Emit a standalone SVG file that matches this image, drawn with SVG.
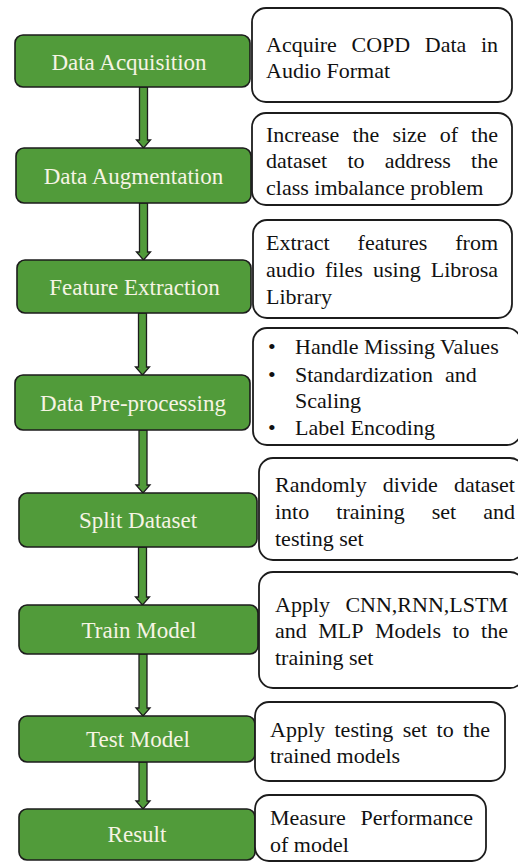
<svg xmlns="http://www.w3.org/2000/svg" width="518" height="863" viewBox="0 0 518 863">
  <style>
    text { font-family: "Liberation Serif", "Times New Roman", serif; font-size: 22px; }
    .step rect { fill: #519b3a; stroke: #1c1c1c; stroke-width: 1.6; }
    .step text { fill: #f6f4e4; text-anchor: middle; font-size: 23px; }
    .note rect { fill: #ffffff; stroke: #1c1c1c; stroke-width: 1.8; }
    .note text { fill: #111111; }
    .note text.r { text-anchor: end; }
    .arrow { fill: #519b3a; stroke: #1c1c1c; stroke-width: 1.3; stroke-linejoin: miter; }
  </style>
  <rect width="518" height="863" fill="#ffffff"/>

  <!-- connectors: block arrows between steps -->
  <g id="connectors">
    <polygon class="arrow" points="139.5,87 139.5,140 136.5,140 143.5,148 150.5,140 147.5,140 147.5,87"/>
    <polygon class="arrow" points="139.5,203 139.5,252 136.5,252 143.5,260 150.5,252 147.5,252 147.5,203"/>
    <polygon class="arrow" points="138.5,313 138.5,367 135.5,367 142.5,375 149.5,367 146.5,367 146.5,313"/>
    <polygon class="arrow" points="139,430 139,485 136,485 143,493 150,485 147,485 147,430"/>
    <polygon class="arrow" points="138.5,547 138.5,597 135.5,597 142.5,605 149.5,597 146.5,597 146.5,547"/>
    <polygon class="arrow" points="139,654 139,708 136,708 143,716 150,708 147,708 147,654"/>
    <polygon class="arrow" points="139,762 139,801 136,801 143,809 150,801 147,801 147,762"/>
  </g>

  <!-- process steps -->
  <g id="step-acquisition" class="step">
    <rect x="15" y="35" width="235" height="52" rx="8"/>
    <text x="129" y="70">Data Acquisition</text>
  </g>
  <g id="step-augmentation" class="step">
    <rect x="16" y="148" width="235" height="55" rx="8"/>
    <text x="133.5" y="184">Data Augmentation</text>
  </g>
  <g id="step-extraction" class="step">
    <rect x="17" y="260" width="234" height="53" rx="8"/>
    <text x="134.5" y="295">Feature Extraction</text>
  </g>
  <g id="step-preprocessing" class="step">
    <rect x="15" y="375" width="235" height="55" rx="8"/>
    <text x="133" y="410.5">Data Pre-processing</text>
  </g>
  <g id="step-split" class="step">
    <rect x="19" y="493" width="238" height="54" rx="8"/>
    <text x="138" y="528">Split Dataset</text>
  </g>
  <g id="step-train" class="step">
    <rect x="19" y="605" width="239" height="49" rx="8"/>
    <text x="139" y="638">Train Model</text>
  </g>
  <g id="step-test" class="step">
    <rect x="19" y="716" width="236" height="46" rx="8"/>
    <text x="138" y="747">Test Model</text>
  </g>
  <g id="step-result" class="step">
    <rect x="19" y="809" width="236" height="51" rx="8"/>
    <text x="137" y="842">Result</text>
  </g>

  <!-- descriptions (justified lines are placed word by word) -->
  <g id="note-acquisition" class="note">
    <rect x="252" y="8" width="260" height="94" rx="14"/>
    <text x="266" y="51.7">Acquire</text>
    <text x="351.5" y="51.7">COPD</text>
    <text x="424.8" y="51.7">Data</text>
    <text class="r" x="498" y="51.7">in</text>
    <text x="266" y="78.3">Audio Format</text>
  </g>
  <g id="note-augmentation" class="note">
    <rect x="252" y="113" width="260" height="92" rx="14"/>
    <text x="266" y="141.7">Increase</text>
    <text x="352.4" y="141.7">the</text>
    <text x="392.4" y="141.7">size</text>
    <text x="439.7" y="141.7">of</text>
    <text class="r" x="498" y="141.7">the</text>
    <text x="266" y="168.3">dataset</text>
    <text x="347.4" y="168.3">to</text>
    <text x="384.8" y="168.3">address</text>
    <text class="r" x="498" y="168.3">the</text>
    <text x="266" y="195">class imbalance problem</text>
  </g>
  <g id="note-extraction" class="note">
    <rect x="253" y="220" width="259" height="98" rx="14"/>
    <text x="266" y="250">Extract</text>
    <text x="357.6" y="250">features</text>
    <text class="r" x="498" y="250">from</text>
    <text x="266" y="277.3">audio</text>
    <text x="325" y="277.3">files</text>
    <text x="373" y="277.3">using</text>
    <text class="r" x="498" y="277.3">Librosa</text>
    <text x="266" y="304">Library</text>
  </g>
  <g id="note-preprocessing" class="note">
    <rect x="253" y="328" width="268" height="117" rx="14"/>
    <text x="268" y="354.3">•</text>
    <text x="295" y="354.3">Handle Missing Values</text>
    <text x="268" y="381.7">•</text>
    <text x="295" y="381.7">Standardization</text>
    <text x="445" y="381.7">and</text>
    <text x="295" y="408.3">Scaling</text>
    <text x="268" y="435">•</text>
    <text x="295" y="435">Label Encoding</text>
  </g>
  <g id="note-split" class="note">
    <rect x="259" y="458" width="265" height="102" rx="14"/>
    <text x="275" y="491.7">Randomly</text>
    <text x="382.8" y="491.7">divide</text>
    <text class="r" x="515" y="491.7">dataset</text>
    <text x="275" y="519">into</text>
    <text x="336.3" y="519">training</text>
    <text x="431.8" y="519">set</text>
    <text class="r" x="515" y="519">and</text>
    <text x="275" y="546">testing set</text>
  </g>
  <g id="note-train" class="note">
    <rect x="259" y="572" width="265" height="116" rx="14"/>
    <text x="275" y="611.7">Apply</text>
    <text class="r" x="508" y="611.7">CNN,RNN,LSTM</text>
    <text x="275" y="638.3">and</text>
    <text x="318.3" y="638.3">MLP</text>
    <text x="375" y="638.3">Models</text>
    <text x="452.5" y="638.3">to</text>
    <text class="r" x="508" y="638.3">the</text>
    <text x="275" y="665">training set</text>
  </g>
  <g id="note-test" class="note">
    <rect x="255" y="702" width="250" height="79" rx="14"/>
    <text x="270" y="736.7">Apply</text>
    <text x="334.5" y="736.7">testing</text>
    <text x="402.7" y="736.7">set</text>
    <text x="436.6" y="736.7">to</text>
    <text class="r" x="490" y="736.7">the</text>
    <text x="270" y="762.7">trained models</text>
  </g>
  <g id="note-result" class="note">
    <rect x="255" y="795" width="231" height="66" rx="14"/>
    <text x="270" y="825">Measure</text>
    <text class="r" x="473" y="825">Performance</text>
    <text x="270" y="851.7">of model</text>
  </g>
</svg>
